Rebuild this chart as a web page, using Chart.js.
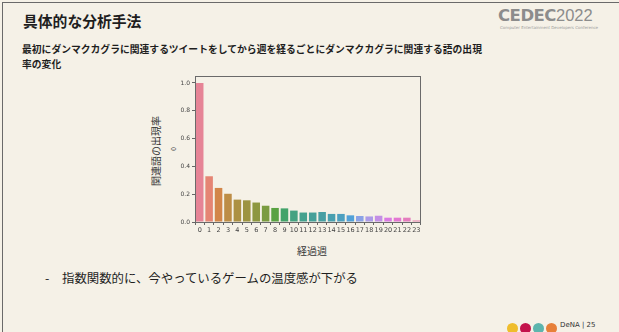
<!DOCTYPE html>
<html><head><meta charset="utf-8">
<script src="https://cdn.jsdelivr.net/npm/chart.js@4.4.0/dist/chart.umd.min.js"></script>
<style>
html,body{margin:0;padding:0;}
body{width:619px;height:332px;background:#f5f1e7;position:relative;overflow:hidden;font-family:"Noto Sans CJK JP","Noto Sans",sans-serif;}
#slide{position:absolute;left:2px;top:2px;width:640px;height:360px;border-left:1px solid #6a6a6a;border-top:1px solid #6a6a6a;}
.t{position:absolute;white-space:nowrap;color:#1e1e1e;}
#title{left:23px;top:10px;font-size:14.8px;font-weight:bold;}
#sub{left:22px;top:42px;font-size:9.8px;font-weight:bold;line-height:15px;}
#bullet{left:45px;top:269px;font-size:12.4px;}
#bullet span{position:absolute;left:17px;}
#ylab{left:155px;top:151px;font-size:10px;transform:translate(-50%,-50%) rotate(-90deg);color:#333;}
#ylab0{left:173px;top:149px;font-size:6.5px;transform:translate(-50%,-50%) rotate(-90deg);color:#444;}
#xlab{left:312px;top:250px;font-size:10px;transform:translate(-50%,-50%);color:#333;}
#logo{left:498px;top:6px;font-family:"DejaVu Sans",sans-serif;color:#8c8c8c;font-size:16.5px;letter-spacing:-0.5px;}
#logo b{font-weight:bold;}
#logo span{font-weight:normal;font-family:"Liberation Sans","DejaVu Sans";letter-spacing:0;}
#logosub{left:500px;top:25px;font-size:4px;color:#9a9a9a;font-family:"DejaVu Sans";}
.dot{position:absolute;width:11px;height:11px;border-radius:50%;top:323px;}
#foot{left:560px;top:321px;font-size:7px;color:#333;font-family:"DejaVu Sans";}
#wrap{position:absolute;left:140px;top:70px;width:290px;height:170px;}
</style></head>
<body>
<div id="slide"></div>
<div class="t" id="title">具体的な分析手法</div>
<div class="t" id="sub">最初にダンマクカグラに関連するツイートをしてから週を経るごとにダンマクカグラに関連する語の出現<br>率の変化</div>
<div class="t" id="logo"><b>CEDEC</b><span>2022</span></div>
<div class="t" id="logosub">Computer Entertainment Developers Conference</div>
<div class="t" id="ylab">関連語の出現率</div>
<div class="t" id="ylab0">0</div>
<div class="t" id="xlab">経過週</div>
<div class="t" id="bullet">-<span>指数関数的に、今やっているゲームの温度感が下がる</span></div>
<div class="dot" style="left:507px;background:#efbd2c"></div>
<div class="dot" style="left:520px;background:#c3134b"></div>
<div class="dot" style="left:533px;background:#5db5ad"></div>
<div class="dot" style="left:546px;background:#e7803a"></div>
<div class="t" id="foot">DeNA | 25</div>
<div id="wrap"><canvas id="c" width="290" height="170"></canvas></div>
<script>
const weeks = ["0","1","2","3","4","5","6","7","8","9","10","11","12","13","14","15","16","17","18","19","20","21","22","23"];
const rates = [1.0,0.329,0.245,0.203,0.161,0.156,0.140,0.117,0.101,0.098,0.082,0.068,0.068,0.072,0.058,0.058,0.048,0.043,0.040,0.045,0.031,0.031,0.031,0.011];
const yTicks = [0,0.2,0.4,0.6,0.8,1.0];

// seaborn husl palette + desaturation (0.75)
const M=[[3.2406,-1.5372,-0.4986],[-0.9689,1.8758,0.0415],[0.0557,-0.2040,1.0570]];
function maxChroma(L,H){const hr=H*Math.PI/180,s=Math.sin(hr),c=Math.cos(hr);const sub1=Math.pow(L+16,3)/1560896;const sub2=sub1>0.008856?sub1:L/903.3;let res=Infinity;for(const [m1,m2,m3] of M){const top=(0.99915*m1+1.05122*m2+1.14460*m3)*sub2;const rb=0.86330*m3-0.17266*m2;const lb=0.12949*m3-0.38848*m1;const bottom=(rb*s+lb*c)*sub2;for(const t of [0,1]){const C=L*(top-1.05122*t)/(bottom+0.17266*s*t);if(C>0&&C<res)res=C;}}return res;}
function huslToRgb(h,s,l){const C=maxChroma(l,h)/100*s;const hr=h*Math.PI/180;const U=C*Math.cos(hr),V=C*Math.sin(hr);const fi=t=>{const t3=t*t*t;return t3>0.008856?t3:(116*t-16)/903.3;};const Y=fi((l+16)/116);const vU=U/(13*l)+0.19784,vV=V/(13*l)+0.46834;const X=-(9*Y*vU)/((vU-4)*vV-vU*vV);const Z=(9*Y-15*vV*Y-vV*X)/(3*vV);return M.map(r=>{let c=r[0]*X+r[1]*Y+r[2]*Z;c=c<=0.0031308?12.92*c:1.055*Math.pow(c,1/2.4)-0.055;return Math.min(1,Math.max(0,c));});}
function rgbToHls(r,g,b){const mx=Math.max(r,g,b),mn=Math.min(r,g,b);const l=(mx+mn)/2;if(mx===mn)return [0,l,0];const d=mx-mn;const s=l<=0.5?d/(mx+mn):d/(2-mx-mn);let h;if(mx===r)h=((g-b)/d)%6;else if(mx===g)h=(b-r)/d+2;else h=(r-g)/d+4;h/=6;if(h<0)h+=1;return [h,l,s];}
function hlsToRgb(h,l,s){if(s===0)return [l,l,l];const m2=l<=0.5?l*(1+s):l+s-l*s;const m1=2*l-m2;const v=(hh)=>{hh=((hh%1)+1)%1;if(hh<1/6)return m1+(m2-m1)*hh*6;if(hh<0.5)return m2;if(hh<2/3)return m1+(m2-m1)*(2/3-hh)*6;return m1;};return [v(h+1/3),v(h),v(h-1/3)];}
function palette(n){const out=[];for(let i=0;i<n;i++){const h=((i/n)+0.01)%1*359;const [r,g,b]=huslToRgb(h,89.1,65);const [hh,ll,ss]=rgbToHls(r,g,b);const [r2,g2,b2]=hlsToRgb(hh,ll,ss*0.75);out.push(`rgb(${Math.round(r2*255)},${Math.round(g2*255)},${Math.round(b2*255)})`);}return out;}
const colors = palette(weeks.length);

const frame={id:'frame',afterDraw(ch){const a=ch.chartArea,ctx=ch.ctx;ctx.save();ctx.strokeStyle='#6a6a6a';ctx.lineWidth=1;ctx.strokeRect(Math.round(a.left)+0.5,Math.round(a.top)+0.5,Math.round(a.right-a.left)-1,Math.round(a.bottom-a.top));ctx.restore();}};
new Chart(document.getElementById('c'),{
  type:'bar',
  data:{labels:weeks,datasets:[{data:rates,backgroundColor:colors,borderWidth:0,barPercentage:0.8,categoryPercentage:1}]},
  options:{
    responsive:false,animation:false,
    layout:{padding:{left:0,right:9,top:6,bottom:0}},
    plugins:{legend:{display:false},tooltip:{enabled:false}},
    scales:{
      x:{grid:{display:true,drawOnChartArea:false,drawTicks:true,tickLength:3,color:'#666'},border:{display:false},
         ticks:{color:'#444',font:{size:6.5,family:'DejaVu Sans'},padding:1,maxRotation:0,autoSkip:false},
         afterFit(s){s.height=18;}},
      y:{min:0,max:1.05,grid:{display:true,drawOnChartArea:false,drawTicks:true,tickLength:3,color:'#666'},border:{display:false},
         ticks:{stepSize:0.2,includeBounds:false,color:'#444',font:{size:6,family:'DejaVu Sans'},padding:2,callback:v=>yTicks.some(t=>Math.abs(t-v)<1e-6)?v.toFixed(1):''},
         afterFit(s){s.width=55;}}
    }
  },
  plugins:[frame]
});
</script>
</body></html>
